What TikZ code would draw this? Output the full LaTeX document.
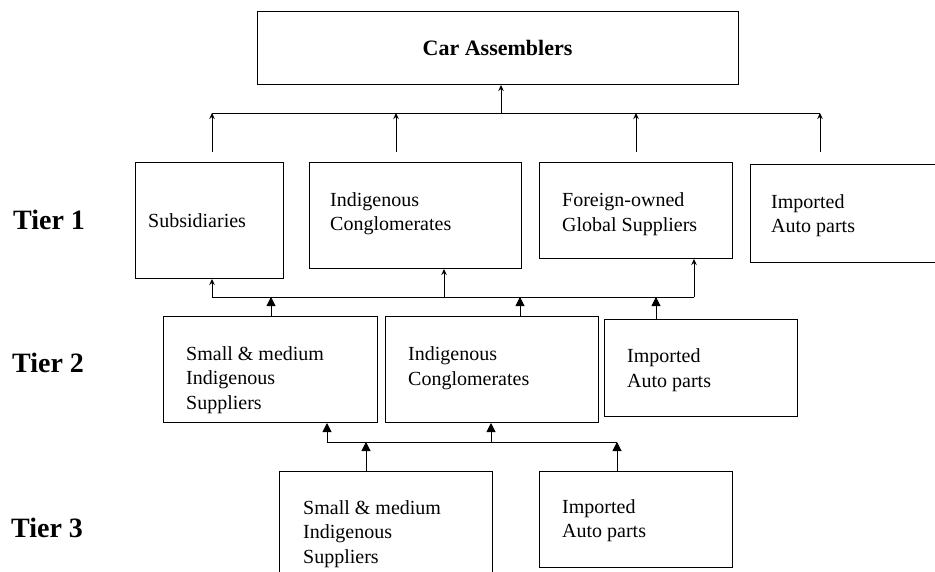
\documentclass[tikz,border=0pt]{standalone}
\usepackage{fontspec}
\setmainfont{Liberation Serif}
\usetikzlibrary{arrows.meta}
\begin{document}
\begin{tikzpicture}[x=1pt,y=-1pt,
  box/.style={draw, line width=1pt, inner sep=0pt, anchor=north west},
  txt/.style={anchor=west, inner sep=0pt, align=left, font=\fontsize{20}{24.5}\selectfont},
  tier/.style={anchor=west, inner sep=0pt, font=\fontsize{28}{32}\selectfont\bfseries},
  wire/.style={line width=1pt},
  oarr/.style={line width=1pt, -{Stealth[length=6pt,width=5.5pt,inset=2pt]}},
  farr/.style={line width=1pt, -{Triangle[length=9pt,width=9pt]}}]
\useasboundingbox (0,0) rectangle (935,571);
\fill[white] (0,0) rectangle (935,571);

% boxes
\node[box, minimum width=481pt, minimum height=73pt] (car) at (257,11) {};
\node[font=\fontsize{22}{26}\selectfont\bfseries, inner sep=0pt] (cartxt) at (497.5,48) {Car Assemblers};

\node[box, minimum width=148pt, minimum height=116pt] (subs) at (135,162) {};
\node[box, minimum width=212pt, minimum height=106pt] (ic1) at (309,162) {};
\node[box, minimum width=193pt, minimum height=96pt] (fo) at (539,162) {};
\node[box, minimum width=190pt, minimum height=98pt] (im1) at (750,164) {};

\node[box, minimum width=214pt, minimum height=106pt] (sm2) at (163,316) {};
\node[box, minimum width=213pt, minimum height=106pt] (ic2) at (385,316) {};
\node[box, minimum width=193pt, minimum height=97pt] (im2) at (604,319) {};

\node[box, minimum width=213pt, minimum height=115pt] (sm3) at (279,471) {};
\node[box, minimum width=193pt, minimum height=96pt] (im3) at (539,471) {};

% texts
\node[txt] (subst) at (148,221) {Subsidiaries};
\node[txt] (ic1t) at (330,213.5) {Indigenous\\Conglomerates};
\node[txt] (fot) at (562,214) {Foreign-owned\\Global Suppliers};
\node[txt] (im1t) at (771,215.5) {Imported\\Auto parts};
\node[txt] (sm2t) at (186,380) {Small \& medium\\Indigenous\\Suppliers};
\node[txt] (ic2t) at (408,368) {Indigenous\\Conglomerates};
\node[txt] (im2t) at (627,370) {Imported\\Auto parts};
\node[txt] (sm3t) at (303,534) {Small \& medium\\Indigenous\\Suppliers};
\node[txt] (im3t) at (562,520.5) {Imported\\Auto parts};

% tier labels
\node[tier] (tier1) at (13,220) {Tier 1};
\node[tier] (tier2) at (12,363) {Tier 2};
\node[tier] (tier3) at (11,528) {Tier 3};

% tier 1 -> car assemblers
\coordinate (busAL) at (212,113);
\coordinate (busAR) at (820,113);
\coordinate (jA) at (501,113);
\draw[wire] (busAL) -- (busAR);
\draw[oarr] (jA) -- (jA |- car.south);
\coordinate (u1) at (212,152);
\coordinate (u2) at (396,152);
\coordinate (u3) at (636,152);
\coordinate (u4) at (820,152);
\draw[oarr] (u1) -- (u1 |- busAL);
\draw[oarr] (u2) -- (u2 |- busAL);
\draw[oarr] (u3) -- (u3 |- busAL);
\draw[oarr] (u4) -- (u4 |- busAL);

% tier 2 -> tier 1
\coordinate (busBL) at (212,297);
\coordinate (busBR) at (694,297);
\coordinate (jB) at (444,297);
\draw[wire] (busBL) -- (busBR);
\draw[oarr] (busBL) -- (busBL |- subs.south);
\draw[oarr] (jB) -- (jB |- ic1.south);
\draw[oarr] (busBR) -- (busBR |- fo.south);
\coordinate (v1) at (271,297);
\coordinate (v2) at (520,297);
\coordinate (v3) at (656,297);
\draw[farr] (v1 |- sm2.north) -- (v1);
\draw[farr] (v2 |- ic2.north) -- (v2);
\draw[farr] (v3 |- im2.north) -- (v3);

% tier 3 -> tier 2
\coordinate (busCL) at (327,442);
\coordinate (busCR) at (617,442);
\coordinate (jC) at (491,442);
\coordinate (w1) at (366,442);
\draw[wire] (busCL) -- (busCR);
\draw[farr] (busCL) -- (busCL |- sm2.south);
\draw[farr] (jC) -- (jC |- ic2.south);
\draw[farr] (w1 |- sm3.north) -- (w1);
\draw[farr] (busCR |- im3.north) -- (busCR);
\end{tikzpicture}
\end{document}
